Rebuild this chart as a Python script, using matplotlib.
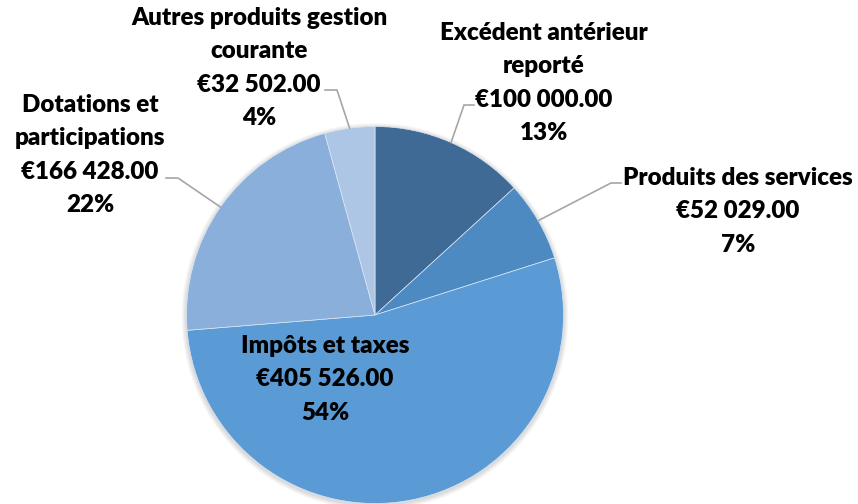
import matplotlib
matplotlib.use("Agg")
import matplotlib.pyplot as plt
from matplotlib.patches import Circle
import numpy as np

categories = ["Excédent antérieur\nreporté", "Produits des services", "Impôts et taxes",
              "Dotations et\nparticipations", "Autres produits gestion\ncourante"]
values = [100000.00, 52029.00, 405526.00, 166428.00, 32502.00]
colors = ["#3F6A96", "#4E8AC2", "#5B9BD5", "#8AAFDB", "#ADC6E6"]

W, H = 858, 504
fig = plt.figure(figsize=(W / 100, H / 100), dpi=100)
ax = fig.add_axes([0, 0, 1, 1])

cx, cy, R = 375, 315, 188.5

# soft shadow
for k in range(6):
    ax.add_patch(Circle((cx, cy + 1.5), R + 1 + k * 0.8, color="#000000", alpha=0.025, lw=0, zorder=0))

wedges, _ = ax.pie(values, colors=colors, startangle=-90, counterclock=True,
                   center=(cx, cy), radius=R,
                   wedgeprops=dict(linewidth=0.5, edgecolor="#DCE6F2"))
ax.set_xlim(0, W)
ax.set_ylim(H, 0)
ax.set_aspect("equal")
ax.axis("off")

total = sum(values)
font = dict(family=["Lato", "DejaVu Sans"], fontsize=17.4, fontweight="heavy", color="#000000")

# layout: (text center x, first line y, elbow point or None, leader end x)
layout = [
    (544, 33, (464, 105), 474),
    (738, 178, (611, 183), 621),
    (325, 346, None, None),
    (90, 105, (178, 178), 166),
    (259, 18, (337, 90), 325),
]
pitch = 33.3

for i, (cat, v) in enumerate(zip(categories, values)):
    lines = cat.split("\n") + ["€" + f"{v:,.2f}".replace(",", " "), f"{v / total * 100:.0f}%"]
    tx, ty, elbow, endx = layout[i]
    for j, s in enumerate(lines):
        ax.text(tx, ty + j * pitch, s, ha="center", va="center", zorder=5, **font)
    if elbow is not None:
        w = wedges[i]
        ang = np.deg2rad((w.theta1 + w.theta2) / 2)
        px, py = cx + R * np.cos(ang), cy + R * np.sin(ang)
        ax.plot([px, elbow[0], endx], [py, elbow[1], elbow[1]], color="#A6A6A6", lw=1.2, zorder=4)

fig.savefig("out.png", dpi=100)
